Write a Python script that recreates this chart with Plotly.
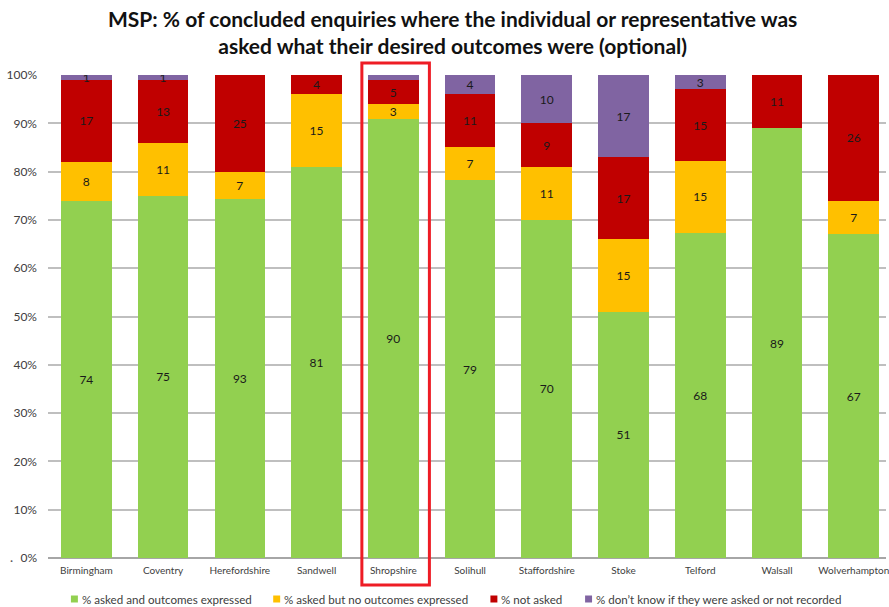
import plotly.graph_objects as go

# Local authorities shown along the x axis
areas = ["Birmingham", "Coventry", "Herefordshire", "Sandwell", "Shropshire",
         "Solihull", "Staffordshire", "Stoke", "Telford", "Walsall", "Wolverhampton"]

# Values per outcome category (stacked and normalised to 100%)
asked_expressed = [74, 75, 93, 81, 90, 79, 70, 51, 68, 89, 67]
asked_no_outcome = [8, 11, 7, 15, 3, 7, 11, 15, 15, 0, 7]
not_asked = [17, 13, 25, 4, 5, 11, 9, 17, 15, 11, 26]
dont_know = [1, 1, 0, 0, 1, 4, 10, 17, 3, 0, 0]
# Segments whose label is left off (too thin to print)
hide_label = [False, False, False, False, True, False, False, False, False, False, False]

series_names = ["% asked and outcomes expressed",
                "% asked but no outcomes expressed",
                "% not asked",
                "% don\u2019t know if they were asked or not recorded"]
series_values = [asked_expressed, asked_no_outcome, not_asked, dont_know]
series_colors = ["#92d050", "#ffc000", "#c00000", "#8064a2"]

FONT = "Lato, 'Open Sans', sans-serif"
W, H = 889, 607
M_L, M_R, M_T, M_B = 48, 0, 75, 49
PW, PH = W - M_L - M_R, H - M_T - M_B


def px_to_paper(px, py):
    """Convert page pixel position to paper coordinates."""
    return (px - M_L) / PW, (H - M_B - py) / PH


fig = go.Figure()
for name, vals, color in zip(series_names, series_values, series_colors):
    labels = []
    for i, v in enumerate(vals):
        if v == 0 or (vals is dont_know and hide_label[i]):
            labels.append("")
        else:
            labels.append(str(v))
    fig.add_trace(go.Bar(
        x=areas, y=vals, name=name, showlegend=False,
        marker=dict(color=color, line=dict(width=0)),
        text=labels, textposition="inside", insidetextanchor="middle",
        textangle=0, textfont=dict(size=12, color="#1a1a1a", family=FONT),
        hoverinfo="x+y+name",
    ))

# Highlight box around Shropshire
fig.add_shape(type="rect", xref="x", yref="paper",
              x0=3.59, x1=4.47, y0=-0.056, y1=1.025,
              line=dict(color="#ee1c25", width=3), fillcolor="rgba(0,0,0,0)")

# Legend row along the bottom: square swatch + label
legend_x = [71, 274, 492, 587]
legend_y = 599
for name, color, lx in zip(series_names, series_colors, legend_x):
    x0, y0 = px_to_paper(lx, legend_y + 3.5)
    x1, y1 = px_to_paper(lx + 7, legend_y - 3.5)
    fig.add_shape(type="rect", xref="paper", yref="paper", x0=x0, x1=x1, y0=y0, y1=y1,
                  line=dict(width=0), fillcolor=color)
    tx, ty = px_to_paper(lx + 9, legend_y)
    fig.add_annotation(text=name, xref="paper", yref="paper", x=tx, y=ty,
                       xanchor="left", yanchor="middle", showarrow=False,
                       font=dict(size=11.6, color="#404040", family=FONT))

# Chart title
tx, ty = px_to_paper(454, 4)
fig.add_annotation(
    text="MSP: % of concluded enquiries where the individual or representative was<br>asked what their desired outcomes were (optional)",
    xref="paper", yref="paper", x=tx, y=ty, xanchor="center", yanchor="top",
    showarrow=False, align="center",
    font=dict(size=21, color="#111111", family=FONT, weight="bold"),
)

dx, dy = px_to_paper(8, 560)
fig.add_annotation(text="\u00b7", xref="paper", yref="paper", x=dx, y=dy,
                   yanchor="middle", showarrow=False, font=dict(size=12, color="#595959"))

fig.update_layout(
    width=W, height=H,
    barmode="stack", barnorm="percent", bargap=0.34,
    plot_bgcolor="white", paper_bgcolor="white",
    margin=dict(l=M_L, r=M_R, t=M_T, b=M_B),
    font=dict(family=FONT, color="#404040"),
    uniformtext=dict(minsize=12, mode="show"),
    showlegend=False,
)
fig.update_xaxes(range=[-0.5, 10.42], showgrid=False, showline=False, ticks="",
                 ticklabelstandoff=5,
                 tickfont=dict(size=10, color="#404040"), fixedrange=True)
fig.update_yaxes(range=[0, 100], dtick=10, ticksuffix="%", showgrid=True,
                 gridcolor="#bfbfbf", gridwidth=1.5, zeroline=True,
                 zerolinecolor="#a6a6a6", zerolinewidth=1.5, showline=False,
                 ticks="", ticklabelstandoff=10,
                 tickfont=dict(size=12, color="#404040"), fixedrange=True)

fig.write_html("out.html")
